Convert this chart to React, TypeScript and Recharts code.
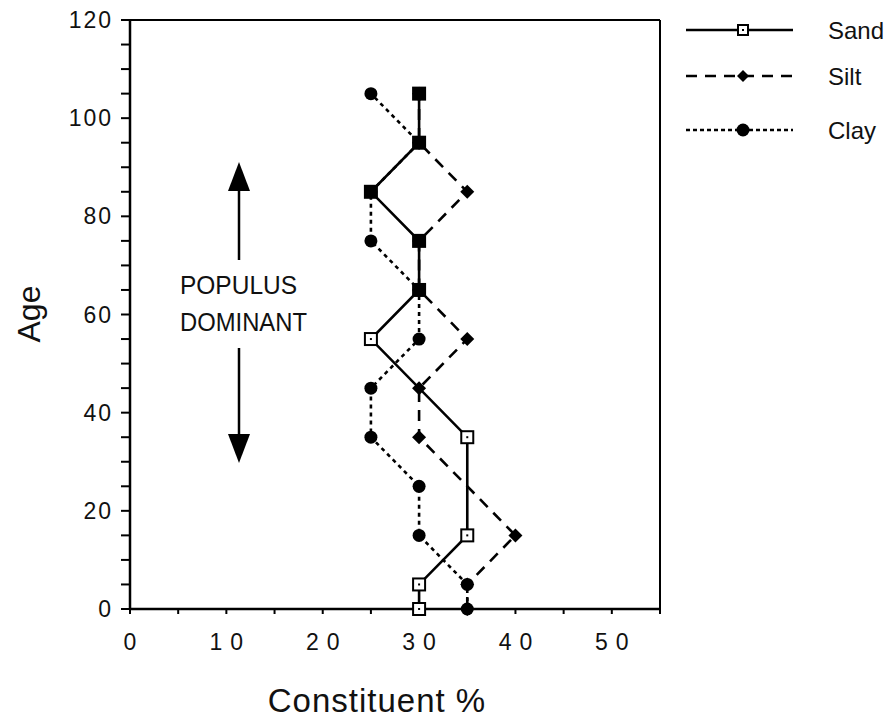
import { ScatterChart, Scatter, XAxis, YAxis, ReferenceLine } from "recharts";

// ages sampled for each constituent (y) and its percentage (x)
const sandAge = [0, 5, 15, 35, 55, 65, 75, 85, 95, 105];
const sandPct = [30, 30, 35, 35, 25, 30, 30, 25, 30, 30];
const siltAge = [0, 5, 15, 35, 45, 55, 65, 75, 85, 95, 105];
const siltPct = [35, 35, 40, 30, 30, 35, 30, 30, 35, 30, 30];
const clayAge = [0, 5, 15, 25, 35, 45, 55, 65, 75, 85, 95, 105];
const clayPct = [35, 35, 30, 30, 25, 25, 30, 30, 25, 25, 30, 25];

const xTicks = [0, 5, 10, 15, 20, 25, 30, 35, 40, 45, 50, 55];
const xLabelled = [0, 10, 20, 30, 40, 50];
const yTicks = [0, 5, 10, 15, 20, 25, 30, 35, 40, 45, 50, 55, 60, 65, 70, 75, 80, 85, 90, 95, 100, 105, 110, 115, 120];
const yLabelled = [0, 20, 40, 60, 80, 100, 120];

const FONT = '"Liberation Sans", Arial, Helvetica, sans-serif';

const toRows = (ages: number[], pcts: number[]) =>
  ages.map((age, i) => ({ age, pct: pcts[i] }));

const sand = toRows(sandAge, sandPct);
const silt = toRows(siltAge, siltPct);
const clay = toRows(clayAge, clayPct);

// sand markers that sit on top of another marker look filled in the original
const covered = new Set([...silt, ...clay].map((d) => `${d.age}:${d.pct}`));

// joins the scatter points in data order with a thick black stroke
const joint = (dash?: string) => (p: any) => {
  const pts = (p.points || [])
    .map((pt: any) => `${pt.x ?? pt.cx},${pt.y ?? pt.cy}`)
    .join(" ");
  return <polyline points={pts} fill="none" stroke="#000" strokeWidth={2.6} strokeDasharray={dash} />;
};

function SandDot(props: any) {
  const { cx, cy, payload } = props;
  if (cx == null || cy == null) return null;
  const filled = covered.has(`${payload.age}:${payload.pct}`);
  return (
    <g>
      <rect x={cx - 6} y={cy - 6} width={12} height={12} fill={filled ? "#000" : "#fff"} stroke="#000" strokeWidth={2} />
      {!filled && <rect x={cx - 1} y={cy - 1} width={2} height={2} fill="#000" />}
    </g>
  );
}

function SiltDot(props: any) {
  const { cx, cy } = props;
  if (cx == null || cy == null) return null;
  return <path d={`M${cx},${cy - 7}L${cx + 7},${cy}L${cx},${cy + 7}L${cx - 7},${cy}Z`} fill="#000" />;
}

function ClayDot(props: any) {
  const { cx, cy } = props;
  if (cx == null || cy == null) return null;
  return <circle cx={cx} cy={cy} r={6.5} fill="#000" />;
}

function LegendRows() {
  const rows = [
    { name: "Sand", y: 30, dash: undefined, mark: "sand" },
    { name: "Silt", y: 76, dash: "11 8", mark: "silt" },
    { name: "Clay", y: 130, dash: "4 3", mark: "clay" },
  ];
  return (
    <g>
      {rows.map((r) => (
        <g key={r.name}>
          <line x1={686} x2={793} y1={r.y} y2={r.y} stroke="#000" strokeWidth={2.6} strokeDasharray={r.dash} />
          {r.mark === "sand" && (
            <g>
              <rect x={738} y={r.y - 5} width={10} height={10} fill="#fff" stroke="#000" strokeWidth={2} />
              <rect x={742} y={r.y - 1} width={2} height={2} fill="#000" />
            </g>
          )}
          {r.mark === "silt" && <path d={`M743,${r.y - 6}L749,${r.y}L743,${r.y + 6}L737,${r.y}Z`} fill="#000" />}
          {r.mark === "clay" && <circle cx={743} cy={r.y} r={6.5} fill="#000" />}
          <text x={828} y={r.y + 9} fontSize={24} fontFamily={FONT} fill="#111">
            {r.name}
          </text>
        </g>
      ))}
    </g>
  );
}

export default function App() {
  return (
    <div style={{ position: "absolute", left: 0, top: 0, width: 887, height: 719, background: "#fff" }}>
      <ScatterChart width={887} height={719} margin={{ top: 20, right: 227, bottom: 60, left: 70 }}>
        <XAxis
          type="number"
          dataKey="pct"
          domain={[0, 55]}
          ticks={xTicks}
          interval={0}
          tickSize={5}
          tickMargin={20}
          height={50}
          axisLine={{ stroke: "#000", strokeWidth: 2.5 }}
          tickLine={{ stroke: "#000", strokeWidth: 2 }}
          tickFormatter={(v: number) => (xLabelled.includes(v) ? String(v) : "")}
          tick={{ fill: "#111", fontSize: 23, fontFamily: FONT, letterSpacing: 8, dx: 4 }}
        />
        <YAxis
          type="number"
          dataKey="age"
          domain={[0, 120]}
          ticks={yTicks}
          interval={0}
          tickSize={9}
          tickMargin={8}
          width={60}
          axisLine={{ stroke: "#000", strokeWidth: 2.5 }}
          tickLine={{ stroke: "#000", strokeWidth: 2 }}
          tickFormatter={(v: number) => (yLabelled.includes(v) ? String(v) : "")}
          tick={{ fill: "#111", fontSize: 23, fontFamily: FONT, letterSpacing: 2 }}
        />
        <ReferenceLine y={120} stroke="#000" strokeWidth={2} />
        <ReferenceLine x={55} stroke="#000" strokeWidth={2} />
        <Scatter
          name="Clay"
          data={clay}
          fill="#000"
          line={joint("4 4")}
          lineType="joint"
          shape={ClayDot}
          isAnimationActive={false}
        />
        <Scatter
          name="Silt"
          data={silt}
          fill="#000"
          line={joint("11 8")}
          lineType="joint"
          shape={SiltDot}
          isAnimationActive={false}
        />
        <Scatter
          name="Sand"
          data={sand}
          fill="#000"
          line={joint()}
          lineType="joint"
          shape={SandDot}
          isAnimationActive={false}
        />
      </ScatterChart>
      <svg width={887} height={719} style={{ position: "absolute", left: 0, top: 0, pointerEvents: "none" }}>
        <text
          transform="translate(40,314) rotate(-90)"
          textAnchor="middle"
          fontSize={32}
          fontFamily={FONT}
          fill="#111"
        >
          Age
        </text>
        <text x={377} y={712} textAnchor="middle" fontSize={33} fontFamily={FONT} fill="#111" letterSpacing={1}>
          Constituent %
        </text>
        <line x1={239} y1={260} x2={239} y2={186} stroke="#000" strokeWidth={2.5} />
        <path d="M239,162L228,191L250,191Z" fill="#000" />
        <line x1={239} y1={348} x2={239} y2={438} stroke="#000" strokeWidth={2.5} />
        <path d="M239,463L228,434L250,434Z" fill="#000" />
        <text x={180} y={294} fontSize={25} fontFamily={FONT} fill="#111" textLength={117} lengthAdjust="spacingAndGlyphs">
          POPULUS
        </text>
        <text x={180} y={331} fontSize={25} fontFamily={FONT} fill="#111" textLength={127} lengthAdjust="spacingAndGlyphs">
          DOMINANT
        </text>
        <LegendRows />
      </svg>
    </div>
  );
}
